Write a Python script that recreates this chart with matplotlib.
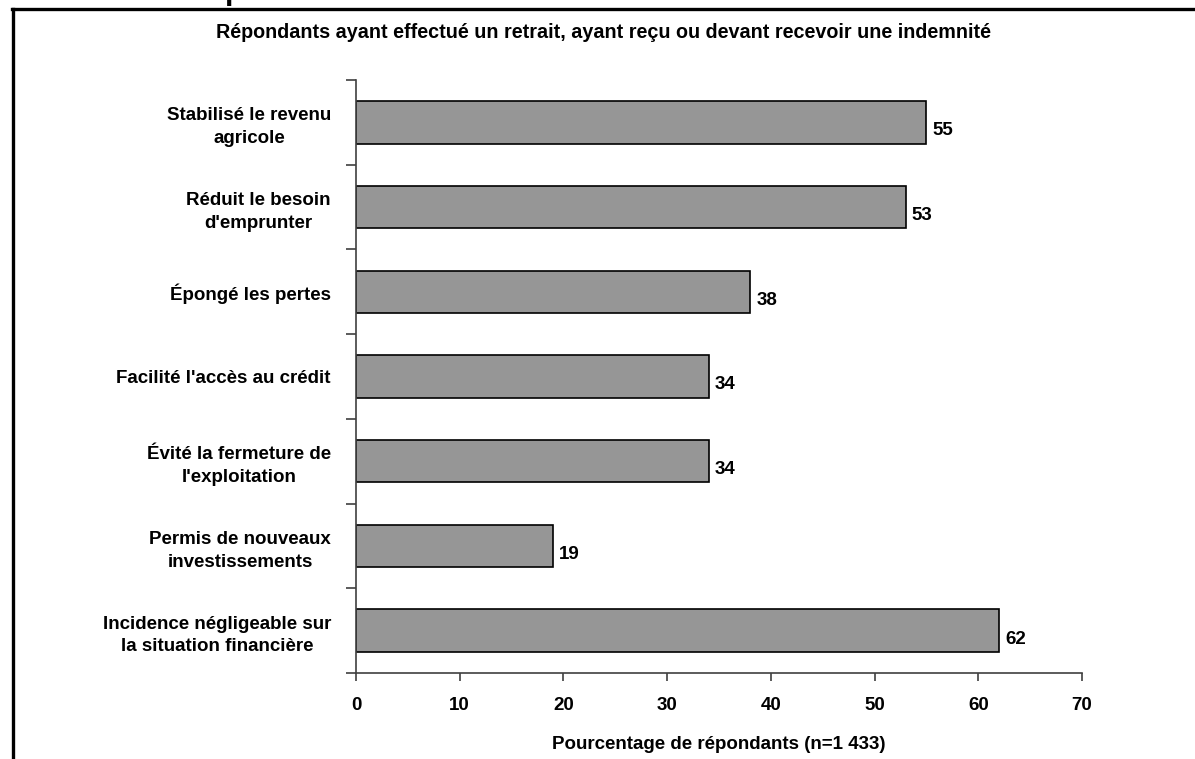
import matplotlib.pyplot as plt
from matplotlib.lines import Line2D

plt.rcParams['font.family'] = ['Liberation Sans', 'DejaVu Sans']
plt.rcParams['font.weight'] = 'bold'

# Effets déclarés (pourcentage de répondants)
categories = [
    "Stabilisé le revenu\nagricole",
    "Réduit le besoin\nd'emprunter",
    "Épongé les pertes",
    "Facilité l'accès au crédit",
    "Évité la fermeture de\nl'exploitation",
    "Permis de nouveaux\ninvestissements",
    "Incidence négligeable sur\nla situation financière",
]
values = [55, 53, 38, 34, 34, 19, 62]
xticks = [0, 10, 20, 30, 40, 50, 60, 70]

fs = 13.5

fig = plt.figure(figsize=(11.95, 7.59), dpi=100)
ax = fig.add_axes([356 / 1195, 1 - 673 / 759, 726 / 1195, 593 / 759])

pos = list(range(len(categories)))[::-1]
ax.barh(pos, values, height=0.5, color='#969696', edgecolor='black', linewidth=1.2)
for p, v in zip(pos, values):
    ax.text(v + 0.6, p - 0.1, str(v), va='center', ha='left', fontsize=fs, fontweight='bold')

ax.set_xlim(0, 70)
ax.set_ylim(-0.5, len(categories) - 0.5)
ax.set_xticks(xticks)
ax.set_xticklabels([str(t) for t in xticks], fontsize=fs, fontweight='bold')
ax.tick_params(axis='x', direction='out', length=6, width=1.2, color='#404040', pad=11)

# Étiquettes de catégories sans tiret, tirets aux limites des catégories
ax.set_yticks(pos)
ax.set_yticklabels(categories, fontsize=fs, fontweight='bold', ha='right',
                   multialignment='center', linespacing=1.45)
ax.tick_params(axis='y', which='major', length=0, pad=18)
ax.set_yticks([i - 0.5 for i in range(len(categories) + 1)], minor=True)
ax.tick_params(axis='y', which='minor', direction='out', length=7, width=1.2, color='#404040')

for s in ['top', 'right']:
    ax.spines[s].set_visible(False)
for s in ['left', 'bottom']:
    ax.spines[s].set_color('#404040')
    ax.spines[s].set_linewidth(1.2)

ax.set_xlabel("Pourcentage de répondants (n=1 433)", fontsize=fs, fontweight='bold', labelpad=16)

fig.text(604 / 1195, 1 - 33 / 759,
         "Répondants ayant effectué un retrait, ayant reçu ou devant recevoir une indemnité",
         ha='center', va='center', fontsize=14.2, fontweight='bold')

# Cadre (haut et gauche)
fig.add_artist(Line2D([12 / 1195, 1], [1 - 9 / 759, 1 - 9 / 759], color='black', linewidth=2.4,
                      transform=fig.transFigure))
fig.add_artist(Line2D([13 / 1195, 13 / 1195], [1 - 9 / 759, 0], color='black', linewidth=2.4,
                      transform=fig.transFigure))
# Titre de la page au-dessus, coupé par le bord
fig.text(234 / 1195, 1 + 1 / 759, "p", ha='center', va='baseline', fontsize=22, fontweight='bold')

fig.savefig('out.png', dpi=100)
